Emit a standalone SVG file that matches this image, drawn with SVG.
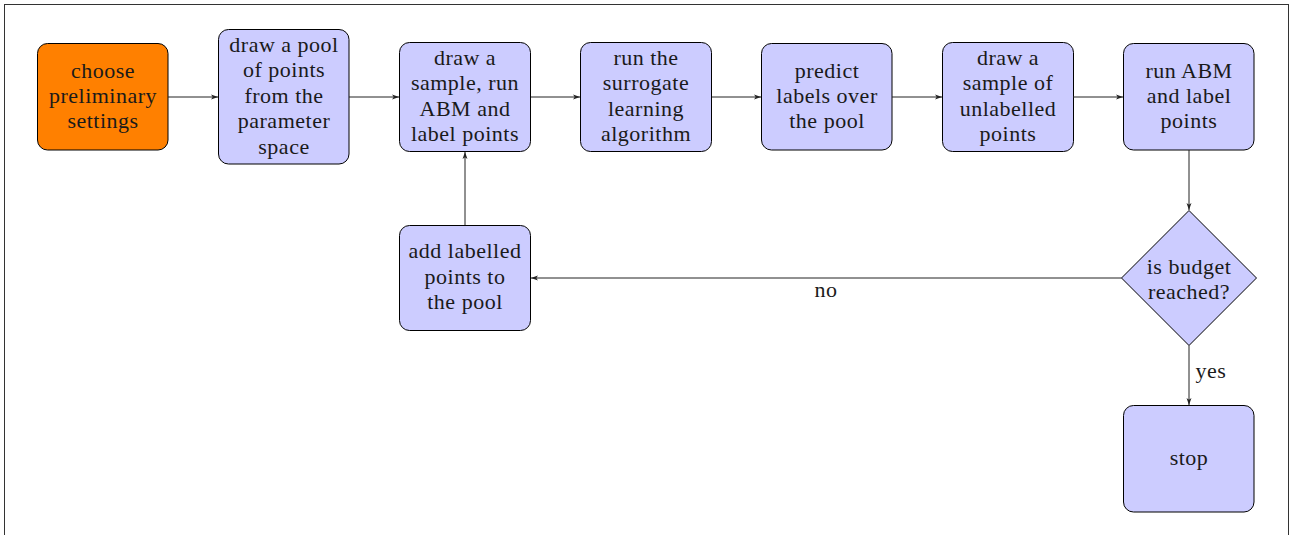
<svg xmlns="http://www.w3.org/2000/svg" width="1296" height="535" viewBox="0 0 1296 535" font-family="Liberation Serif, serif">
<style>
.n{fill:#ccccff;stroke:#000;stroke-width:1}
.o{fill:#ff8000;stroke:#000;stroke-width:1}
text{font-size:22px;fill:#1a1a1a;text-anchor:middle;letter-spacing:0.5px}
.c{fill:none;stroke:#222;stroke-width:1;marker-end:url(#a)}
</style>
<defs>
<marker id="a" viewBox="0 0 10 10" refX="10" refY="5" markerWidth="7" markerHeight="7" markerUnits="userSpaceOnUse" orient="auto">
<path d="M0,1.5 L10,5 L0,8.5 L2.5,5 Z" fill="#222"/>
</marker>
</defs>
<rect x="4.5" y="4.5" width="1284" height="560" fill="#fff" stroke="#333" stroke-width="1"/>
<g id="n1"><rect class="o" x="37.5" y="43.5" width="130.5" height="106.5" rx="10"/>
<text x="103" y="78">choose</text><text x="103" y="103">preliminary</text><text x="103" y="128">settings</text></g>
<g id="n2"><rect class="n" x="218.5" y="29.5" width="130.5" height="134.5" rx="10"/>
<text x="284" y="52">draw a pool</text><text x="284" y="77">of points</text><text x="284" y="103">from the</text><text x="284" y="128">parameter</text><text x="284" y="154">space</text></g>
<g id="n3"><rect class="n" x="399.5" y="42.5" width="131" height="109" rx="10"/>
<text x="465" y="65">draw a</text><text x="465" y="90">sample, run</text><text x="465" y="116">ABM and</text><text x="465" y="141">label points</text></g>
<g id="n4"><rect class="n" x="580.5" y="42.5" width="131" height="109" rx="10"/>
<text x="646" y="65">run the</text><text x="646" y="90">surrogate</text><text x="646" y="116">learning</text><text x="646" y="141">algorithm</text></g>
<g id="n5"><rect class="n" x="761.5" y="43.5" width="130.5" height="106.5" rx="10"/>
<text x="827" y="78">predict</text><text x="827" y="103">labels over</text><text x="827" y="128">the pool</text></g>
<g id="n6"><rect class="n" x="942.5" y="42.5" width="131" height="109" rx="10"/>
<text x="1008" y="65">draw a</text><text x="1008" y="90">sample of</text><text x="1008" y="116">unlabelled</text><text x="1008" y="141">points</text></g>
<g id="n7"><rect class="n" x="1123.5" y="43.5" width="130.5" height="106.5" rx="10"/>
<text x="1189" y="78">run ABM</text><text x="1189" y="103">and label</text><text x="1189" y="128">points</text></g>
<g id="n8"><polygon class="n" points="1189,210.5 1256.5,278 1189,345.5 1121.5,278"/>
<text x="1189" y="274">is budget</text><text x="1189" y="299">reached?</text></g>
<g id="n9"><rect class="n" x="399.5" y="225.5" width="131" height="105" rx="10"/>
<text x="465" y="258">add labelled</text><text x="465" y="284">points to</text><text x="465" y="309">the pool</text></g>
<g id="n10"><rect class="n" x="1123.5" y="405.5" width="130.5" height="106.5" rx="10"/>
<text x="1189" y="465">stop</text></g>
<g id="edges">
<path class="c" d="M168,97 H218"/>
<path class="c" d="M349,97 H399"/>
<path class="c" d="M531,97 H580"/>
<path class="c" d="M712,97 H761"/>
<path class="c" d="M892,97 H942"/>
<path class="c" d="M1073,97 H1123"/>
<path class="c" d="M1189,150 V210"/>
<path class="c" d="M1189,345.5 V405"/>
<path class="c" d="M1121.5,278 H531"/>
<path class="c" d="M465,225 V152"/>
<text x="826" y="297">no</text>
<text x="1211" y="378">yes</text>
</g>
</svg>
